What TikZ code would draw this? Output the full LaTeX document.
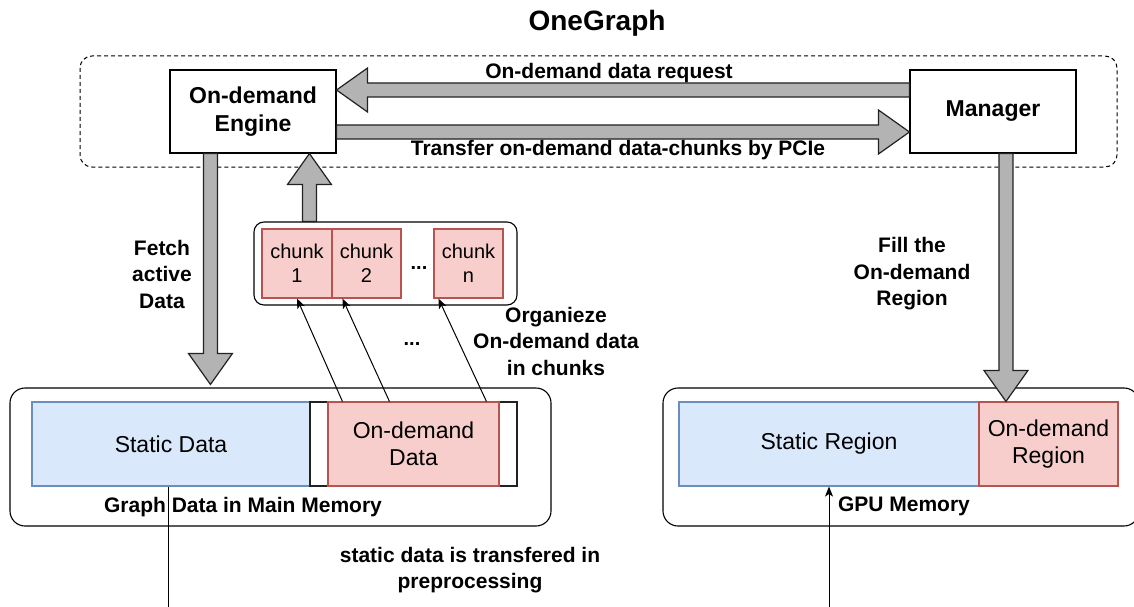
\documentclass[tikz,border=0pt]{standalone}
\usepackage{fontspec}
\setmainfont{Liberation Sans}
\usetikzlibrary{calc,arrows.meta}

\definecolor{blueFill}{HTML}{DAE8FC}
\definecolor{blueLine}{HTML}{6C8EBF}
\definecolor{redFill}{HTML}{F8CECC}
\definecolor{redLine}{HTML}{B85450}
\definecolor{arrowGray}{HTML}{B3B3B3}
\definecolor{edgeDark}{HTML}{222222}

% Wide outlined block arrow from #1 to #2 (shaft half-width 7, head half-width 22, head length 31)
\newcommand\flexarrow[2]{%
  \draw[flexarr] let \p1=(#1), \p2=(#2),
      \n1={veclen(\x2-\x1,\y2-\y1)},
      \n2={(\x2-\x1)/\n1}, \n3={(\y2-\y1)/\n1} in
    ({\x1-7*(\n3)},{\y1+7*(\n2)})
    -- ({\x2-31*(\n2)-7*(\n3)},{\y2-31*(\n3)+7*(\n2)})
    -- ({\x2-31*(\n2)-22*(\n3)},{\y2-31*(\n3)+22*(\n2)})
    -- (\p2)
    -- ({\x2-31*(\n2)+22*(\n3)},{\y2-31*(\n3)-22*(\n2)})
    -- ({\x2-31*(\n2)+7*(\n3)},{\y2-31*(\n3)-7*(\n2)})
    -- ({\x1+7*(\n3)},{\y1-7*(\n2)}) -- cycle;%
}

\begin{document}
\begin{tikzpicture}[x=1pt,y=1pt,
  flexarr/.style={fill=arrowGray, draw=edgeDark, line width=1.2pt, line join=miter},
  thinarr/.style={draw=black, line width=1pt, -{Stealth[length=10pt,width=8pt,inset=2.5pt]}},
  box/.style={draw=black, line width=1.1pt, fill=white, inner sep=0pt, align=center,
    minimum width=166pt, minimum height=83pt,
    font=\bfseries\fontsize{23}{28}\selectfont},
  frame/.style={draw=black, line width=1.1pt, rounded corners=15pt, inner sep=0pt},
  cellbase/.style={line width=1.1pt, inner sep=0pt, align=center, minimum height=84pt,
    font=\fontsize{23}{27.5}\selectfont},
  bluecell/.style={cellbase, draw=blueLine, fill=blueFill},
  redcell/.style={cellbase, draw=redLine, fill=redFill},
  chunkcell/.style={draw=redLine, fill=redFill, line width=1.1pt, inner sep=0pt, align=center,
    minimum height=69pt, font=\fontsize{20}{24.5}\selectfont},
  lbl/.style={inner sep=0pt, align=center, font=\bfseries\fontsize{21}{26.5}\selectfont},
  dotlbl/.style={inner sep=0pt, anchor=base, font=\bfseries\fontsize{20}{24}\selectfont},
]
\useasboundingbox (0,0) rectangle (1134,-607);
\fill[white] (0,0) rectangle (1134,-607);
\clip (0,0) rectangle (1134,-607);

% title and the dashed OneGraph group
\node[inner sep=0pt, font=\bfseries\fontsize{28}{32}\selectfont] (title) at (597,-23) {OneGraph};
\draw[black, line width=1pt, dash pattern=on 4pt off 3pt, rounded corners=12pt]
  (80,-56) rectangle (1117,-167);

% engine and manager
\node[box] (eng) at (253,-111.5) {On-demand\\Engine};
\node[box] (mgr) at (993,-111.5) {Manager};

% chunk container
\node[frame, rounded corners=10pt, minimum width=263pt, minimum height=83pt] (chunkbox) at (385.5,-263.5) {};
\node[chunkcell, minimum width=70pt] (chunk1) at (297,-263.5) {chunk\\1};
\node[chunkcell, minimum width=69pt] (chunk2) at (366.5,-263.5) {chunk\\2};
\node[chunkcell, minimum width=69pt] (chunkn) at (468.5,-263.5) {chunk\\n};
\node[dotlbl] (dotsA) at (419,-269) {...};

% main memory
\node[frame, minimum width=541pt, minimum height=138pt] (mainmem) at (280.5,-457) {};
\node[bluecell, minimum width=278pt] (sdata) at (171,-444) {Static Data};
\node[draw=edgeDark, fill=white, line width=1.1pt, inner sep=0pt, minimum width=207pt, minimum height=84pt] (odframe) at (413.5,-444) {};
\node[redcell, minimum width=171pt] (odata) at (413.5,-444) {On-demand\\Data};
\node[lbl] (mmlbl) at (243,-507) {Graph Data in Main Memory};

% GPU memory
\node[frame, minimum width=476pt, minimum height=138pt] (gpumem) at (901,-457) {};
\node[bluecell, minimum width=300pt] (sreg) at (829,-444) {Static Region};
\node[redcell, minimum width=139pt] (oreg) at (1048.5,-444) {On-demand\\Region};
\node[lbl] (gpulbl) at (904,-506) {GPU Memory};

% labels
\node[lbl] (reqlbl) at (609,-73) {On-demand data request};
\node[lbl] (trlbl) at (618,-150) {Transfer on-demand data-chunks by PCIe};
\node[lbl] (fetchlbl) at (162,-274) {Fetch\\active\\Data};
\node[lbl] (filllbl) at (912,-274) {Fill the\\On-demand\\Region};
\node[lbl] (orglbl) at (556,-341) {Organieze\\On-demand data\\in chunks};
\node[dotlbl] (dotsB) at (412,-345) {...};
\node[lbl] (stlbl) at (470,-570) {static data is transfered in\\preprocessing};

% block arrows
\flexarrow{$(mgr.west)+(0,21.5)$}{$(eng.east)+(0,21.5)$}
\flexarrow{$(eng.east)+(0,-20.5)$}{$(mgr.west)+(0,-20.5)$}
\flexarrow{$(eng.south west)+(41,0)$}{$(mainmem.north west)+(201,3)$}
\flexarrow{$(chunkbox.north west)+(56,0)$}{$(eng.south west)+(140,0)$}
\flexarrow{$(mgr.south west)+(96.5,0)$}{$(oreg.north west)+(27.5,0)$}

% on-demand data organised into chunks
\draw[thinarr] ($(odata.north west)+(15,0)$) -- (chunk1.south);
\draw[thinarr] ($(odata.north west)+(62,0)$) -- ($(chunk2.south west)+(11,0)$);
\draw[thinarr] ($(odata.north west)+(159,0)$) -- ($(chunkn.south west)+(5,0)$);

% static data copied to the GPU during preprocessing
\coordinate (lowA) at ($(sdata.south)+(-3,-200)$);
\draw[thinarr] ($(sdata.south)+(-3,0)$) -- (lowA) -| (sreg.south);
\end{tikzpicture}
\end{document}
